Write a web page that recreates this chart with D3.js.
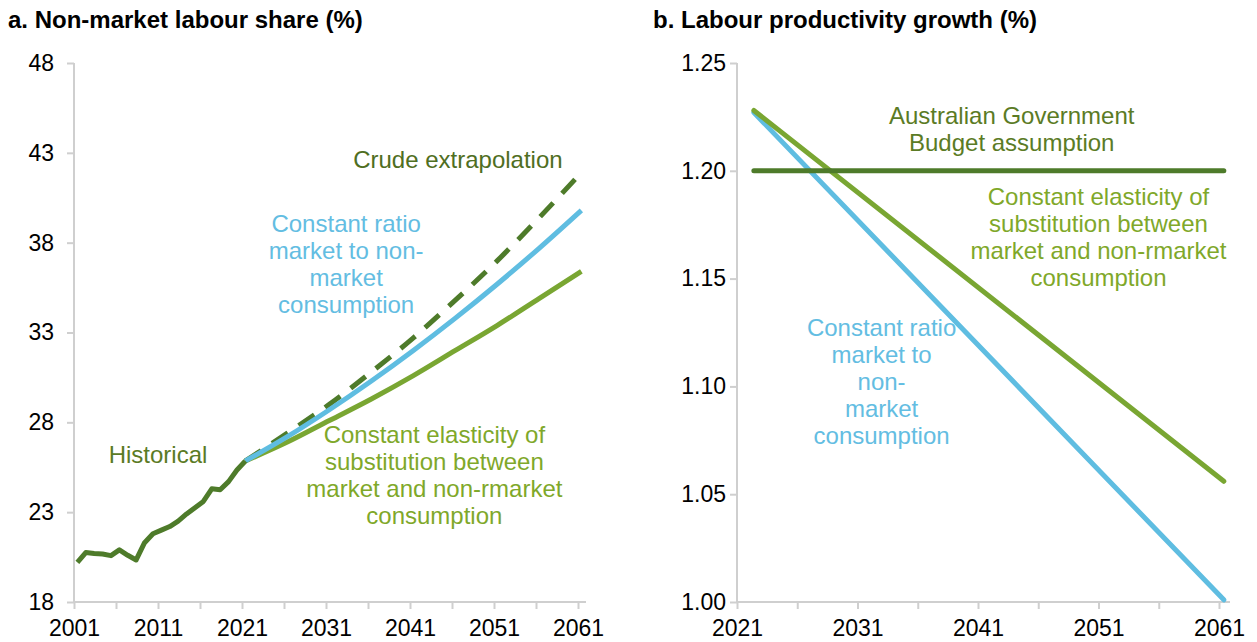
<!DOCTYPE html>
<html>
<head>
<meta charset="utf-8">
<script src="https://cdn.jsdelivr.net/npm/d3@7"></script>
<style>
  body { margin: 0; background: #fff; }
  svg { display: block; font-family: "Liberation Sans", Arial, sans-serif; }
  .tick text { font-size: 23px; fill: #000; }
</style>
</head>
<body>
<div id="chart-area"></div>
<script>
// ---- panel a: non-market labour share (%) ----
const histYears = d3.range(2001, 2022);
const histShare = [20.2, 20.75, 20.7, 20.67, 20.58, 20.9, 20.6, 20.34, 21.3, 21.8, 22.0,
                   22.2, 22.5, 22.9, 23.25, 23.6, 24.3, 24.25, 24.7, 25.35, 25.85];
const projYears = [2021, 2026, 2031, 2036, 2041, 2046, 2051, 2056, 2061];
const crudeShare = [25.85, 27.4, 29.0, 30.8, 32.7, 34.8, 37.0, 39.4, 41.9];
const ratioShare = [25.85, 27.2, 28.7, 30.3, 32.0, 33.8, 35.7, 37.7, 39.8];
const cesShare   = [25.85, 26.9, 28.1, 29.3, 30.6, 32.0, 33.4, 34.9, 36.4];
const shareTicks = [18, 23, 28, 33, 38, 43, 48];

// ---- panel b: labour productivity growth (%) ----
const growthYears = [2022, 2061];
const budgetGrowth = [1.20, 1.20];
const ratioGrowth = [1.227, 1.001];
const cesGrowth = [1.228, 1.056];
const growthTicks = [1.00, 1.05, 1.10, 1.15, 1.20, 1.25];

const yearTicks = d3.range(2001, 2062, 5);

const darkGreen = '#4e7b2a', lightGreen = '#79a632', blue = '#5fbde1';
const axisGrey = '#cfcfcf';

const width = 1257, height = 642;
const svg = d3.select('#chart-area').append('svg')
    .attr('width', width).attr('height', height);

// scales
const xa = d3.scaleLinear().domain([2001, 2061]).range([74, 578]);
const ya = d3.scaleLinear().domain([18, 48]).range([602, 63]);
const xb = d3.scaleLinear().domain([2021, 2061]).range([737, 1219]);
const yb = d3.scaleLinear().domain([1.00, 1.25]).range([602, 63]);

// data are annual (financial-year) observations, plotted mid-year
const off = 0.4;

function axes(x, y, ticks, yFmt, ypad, xEnd) {
    const gy = svg.append('g')
        .attr('transform', `translate(${x.range()[0]},0)`)
        .call(d3.axisLeft(y).tickValues(ticks)
            .tickFormat(yFmt).tickSize(7).tickPadding(ypad));
    gy.select('.domain').remove();
    gy.selectAll('line').attr('stroke', axisGrey).attr('stroke-width', 2);

    const gx = svg.append('g')
        .attr('transform', `translate(0,${y.range()[0]})`)
        .call(d3.axisBottom(x).tickValues(yearTicks.filter(d => d >= x.domain()[0]))
            .tickFormat(d => (d - 2001) % 10 === 0 ? d : '').tickSize(7).tickPadding(11));
    gx.select('.domain').remove();
    gx.selectAll('line').attr('stroke', axisGrey).attr('stroke-width', 2);

    // axis lines
    svg.append('path')
        .attr('d', `M${x.range()[0]},${y.range()[1]}V${y.range()[0]}H${xEnd}`)
        .attr('fill', 'none').attr('stroke', axisGrey).attr('stroke-width', 2);
}
axes(xa, ya, shareTicks, d3.format('d'), 13, 586);
axes(xb, yb, growthTicks, d3.format('.2f'), 4, 1230);

// titles
svg.append('text').attr('x', 8).attr('y', 28)
    .attr('font-size', 24).attr('font-weight', 'bold')
    .text('a. Non-market labour share (%)');
svg.append('text').attr('x', 653).attr('y', 28)
    .attr('font-size', 24).attr('font-weight', 'bold')
    .text('b. Labour productivity growth (%)');

// lines panel a
const lineA = d3.line().x(d => xa(d[0] + off)).y(d => ya(d[1])).curve(d3.curveMonotoneX);
const seriesA = [
    {vals: d3.zip(projYears, cesShare), color: lightGreen, dash: null},
    {vals: d3.zip(projYears, crudeShare), color: darkGreen, dash: '19,13'},
    {vals: d3.zip(projYears, ratioShare), color: blue, dash: null},
    {vals: d3.zip(histYears, histShare), color: darkGreen, dash: null}
];
svg.append('g').selectAll('path')
    .data(seriesA)
    .join('path')
    .attr('d', d => d.vals.length > 10 ? lineA.curve(d3.curveLinear)(d.vals) : lineA.curve(d3.curveMonotoneX)(d.vals))
    .attr('fill', 'none')
    .attr('stroke', d => d.color)
    .attr('stroke-width', 5)
    .attr('stroke-dasharray', d => d.dash)
    .attr('stroke-linejoin', 'round');

// lines panel b
const lineB = d3.line().x(d => xb(d[0] + off)).y(d => yb(d[1]));
const seriesB = [
    {vals: d3.zip(growthYears, ratioGrowth), color: blue},
    {vals: d3.zip(growthYears, cesGrowth), color: lightGreen},
    {vals: d3.zip(growthYears, budgetGrowth), color: darkGreen}
];
svg.append('g').selectAll('path')
    .data(seriesB)
    .join('path')
    .attr('d', d => lineB(d.vals))
    .attr('fill', 'none')
    .attr('stroke', d => d.color)
    .attr('stroke-width', 5)
    .attr('stroke-linecap', 'round');

// annotations
const notes = [
    {x: xa(2046.7), y: ya(42.15), color: '#4f6e22', lines: ['Crude extrapolation']},
    {x: xa(2033.4), y: ya(38.6), color: '#63bde2', lines: ['Constant ratio', 'market to non-', 'market', 'consumption']},
    {x: xa(2043.9), y: ya(26.85), color: '#7fa82a', lines: ['Constant elasticity of', 'substitution between', 'market and non-rmarket', 'consumption']},
    {x: xa(2011), y: ya(25.75), color: '#5b7b25', lines: ['Historical']},
    {x: xb(2043.8), y: yb(1.2217), color: '#5b7b25', lines: ['Australian Government', 'Budget assumption']},
    {x: xb(2051), y: yb(1.1841), color: '#7fa82a', lines: ['Constant elasticity of', 'substitution between', 'market and non-rmarket', 'consumption']},
    {x: xb(2033.0), y: yb(1.1234), color: '#63bde2', lines: ['Constant ratio', 'market to', 'non-', 'market', 'consumption']}
];
const note = svg.append('g').selectAll('text')
    .data(notes)
    .join('text')
    .attr('text-anchor', 'middle')
    .attr('font-size', 24)
    .attr('fill', d => d.color);
note.selectAll('tspan')
    .data(d => d.lines.map((l, i) => ({l, i, x: d.x, y: d.y})))
    .join('tspan')
    .attr('x', d => d.x)
    .attr('y', d => d.y + d.i * 27)
    .text(d => d.l);
</script>
</body>
</html>
